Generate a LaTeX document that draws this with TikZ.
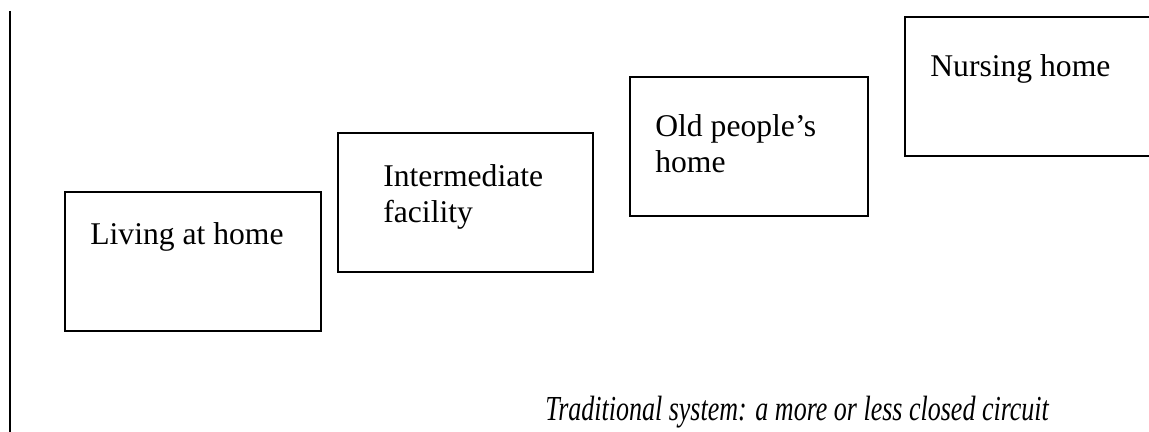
\documentclass[tikz,border=0pt]{standalone}
\usepackage{fontspec}
\setmainfont{Liberation Serif}

\begin{document}
\begin{tikzpicture}[x=0.02cm, y=-0.02cm,
  stagebox/.style={draw, line width=1.2pt, inner sep=0pt, outer sep=0pt,
    anchor=north west, minimum height=2.78cm},
  stagetext/.style={anchor=base west, inner sep=0pt, align=left,
    font=\fontsize{18}{21}\selectfont}]

\useasboundingbox (0,0) rectangle (1149,432);
\clip (0,0) rectangle (1149,432);

% Margin rule
\draw[line width=1.7pt] (10,11) -- (10,432);

% Stages
\node[stagebox, minimum width=5.12cm] (living) at (65,192) {};
\node[stagebox, minimum width=5.10cm] (inter) at (338,133) {};
\node[stagebox, minimum width=4.76cm] (oldhome) at (630,77) {};
\node[stagebox, minimum width=5.40cm] (nursing) at (905,17) {};

% base anchor sits on the last line
\node[stagetext] (livingtext) at (90,244) {Living at home};
\node[stagetext] (intertext) at (383,223) {Intermediate\\facility};
\node[stagetext] (oldtext) at (655,173) {Old people's\\home};
\node[stagetext] (nursingtext) at (930,77) {Nursing home};

% Caption
\node[anchor=base west, inner sep=0pt, xscale=0.74, transform shape,
  font=\fontsize{20}{24}\selectfont\itshape] (caption) at (545,420)
  {Traditional system: a more or less closed circuit};

\end{tikzpicture}
\end{document}
